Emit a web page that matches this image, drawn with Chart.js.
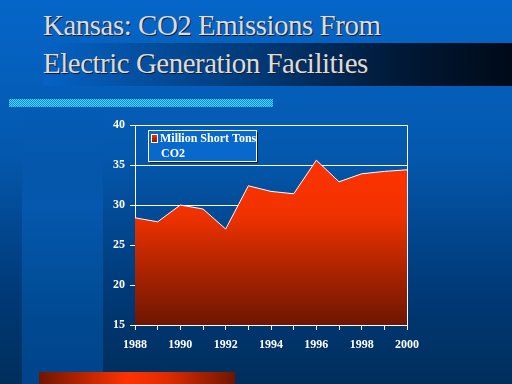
<!DOCTYPE html>
<html>
<head>
<meta charset="utf-8">
<script src="https://cdn.jsdelivr.net/npm/chart.js@4.4.1/dist/chart.umd.min.js"></script>
<style>
  html, body { margin: 0; padding: 0; }
  body {
    width: 512px; height: 384px; overflow: hidden; position: relative;
    background: linear-gradient(to bottom, #0566c9 0%, #0458ad 40%, #003a78 75%, #002e5c 100%);
  }
  .stripe {
    position: absolute; left: 22px; top: 108px; width: 81px; height: 276px;
    background: linear-gradient(to bottom, rgba(0,100,200,0) 0%, #0558ae 35%, #004a92 75%, #00438a 100%);
  }
  .titlebar {
    position: absolute; left: 43px; top: 43px; width: 469px; height: 43px;
    background: linear-gradient(to right, #0562c4 0%, #013a78 45%, #001a38 75%, #000a18 100%);
  }
  .title {
    position: absolute; left: 43px; top: 6px; margin: 0;
    font-family: "Liberation Serif", "Times New Roman", Times, serif;
    font-size: 29px; letter-spacing: -0.5px; font-weight: normal; line-height: 38px; color: #dcdcdc;
    text-shadow: 1px 1px 0 #1a1a2a;
    white-space: nowrap;
  }
  .cyan {
    position: absolute; left: 9px; top: 99px; width: 264px; height: 8px;
    background-color: #0f9ae8;
    background-image: repeating-conic-gradient(#55d2ff 0 25%, #0a8ee0 0 50%);
    background-size: 2px 2px;
  }
  .redbar {
    position: absolute; left: 39px; top: 372px; width: 196px; height: 12px;
    background: linear-gradient(to right, #6e1600 0%, #ff3300 45%, #e02c00 65%, #6e1600 100%);
  }
  canvas { position: absolute; left: 0; top: 0; }
</style>
</head>
<body>
<div class="stripe"></div>
<div class="titlebar"></div>
<h1 class="title">Kansas: CO2 Emissions From<br>Electric Generation Facilities</h1>
<div class="cyan"></div>
<div class="redbar"></div>
<canvas id="chart" width="512" height="384"></canvas>
<script>
const years = ["1988", "1989", "1990", "1991", "1992", "1993", "1994", "1995", "1996", "1997", "1998", "1999", "2000"];
const co2 = [28.4, 27.9, 30.0, 29.5, 27.0, 32.4, 31.7, 31.4, 35.6, 32.9, 33.9, 34.2, 34.4];
const yTicks = [15, 20, 25, 30, 35, 40];
const legendLines = ["Million Short Tons", "CO2"];

const tickFont = { family: "'Liberation Serif', 'Times New Roman', serif", size: 12, weight: "bold" };

function redFill(ctx) {
    const area = ctx.chart.chartArea;
    if (!area) return "#e03000";
    const g = ctx.chart.ctx.createLinearGradient(0, area.top + 30, 0, area.bottom);
    g.addColorStop(0, "#ff3300");
    g.addColorStop(0.35, "#f03200");
    g.addColorStop(0.7, "#a82200");
    g.addColorStop(1, "#6e1600");
    return g;
}

// right border of the plot and the floating legend box
const framePlugin = {
    id: "frame",
    afterDatasetsDraw(chart) {
        const c = chart.ctx;
        const a = chart.chartArea;
        c.save();
        c.strokeStyle = "#ffffff";
        c.lineWidth = 1;
        c.beginPath();
        c.moveTo(Math.round(a.right) + 0.5, a.top);
        c.lineTo(Math.round(a.right) + 0.5, a.bottom);
        c.stroke();

        // legend
        const bx = 148, by = 130, bw = 108, bh = 31;
        c.fillStyle = "#101830";
        c.fillRect(bx + 2, by + 2, bw, bh);
        c.fillStyle = "#0868cc";
        c.fillRect(bx, by, bw, bh);
        c.strokeStyle = "#ffffff";
        c.strokeRect(bx + 0.5, by + 0.5, bw, bh);

        const sg = c.createLinearGradient(0, by + 4, 0, by + 13);
        sg.addColorStop(0, "#ff3300");
        sg.addColorStop(1, "#801800");
        c.fillStyle = sg;
        c.fillRect(bx + 3, by + 4, 7, 9);
        c.strokeStyle = "#ffffff";
        c.strokeRect(bx + 3.5, by + 4.5, 6, 8);

        c.fillStyle = "#ffffff";
        c.font = "bold 12px 'Liberation Serif', 'Times New Roman', serif";
        c.textBaseline = "middle";
        c.textAlign = "left";
        c.fillText(legendLines[0], bx + 12, by + 9);
        c.fillText(legendLines[1], bx + 13, by + 24);
        c.restore();
    }
};

new Chart(document.getElementById("chart"), {
    type: "line",
    data: {
        labels: years,
        datasets: [{
            label: legendLines[0],
            data: co2,
            fill: "start",
            backgroundColor: redFill,
            borderColor: "#ffffff",
            borderWidth: 1,
            pointRadius: 0,
            tension: 0
        }]
    },
    options: {
        responsive: false,
        animation: false,
        layout: { padding: { left: 0, top: 125, right: 105, bottom: 29 } },
        plugins: { legend: { display: false }, tooltip: { enabled: false } },
        scales: {
            x: {
                type: "category",
                offset: false,
                afterFit: s => { s.height = 30; },
                border: { color: "#ffffff", width: 1 },
                grid: { drawOnChartArea: false, color: "#ffffff", tickLength: 5 },
                ticks: {
                    color: "#ffffff", font: tickFont, autoSkip: false, maxRotation: 0, padding: 8,
                    callback: (v, i) => (i % 2 === 0 ? years[i] : "")
                }
            },
            y: {
                min: 15,
                max: 40,
                afterBuildTicks: s => { s.ticks = yTicks.map(v => ({ value: v })); },
                afterFit: s => { s.width = 135; },
                border: { color: "#ffffff", width: 1 },
                grid: { color: "#ffffff", tickLength: 5 },
                ticks: { color: "#ffffff", font: tickFont, padding: 5 }
            }
        }
    },
    plugins: [framePlugin]
});
</script>
</body>
</html>
